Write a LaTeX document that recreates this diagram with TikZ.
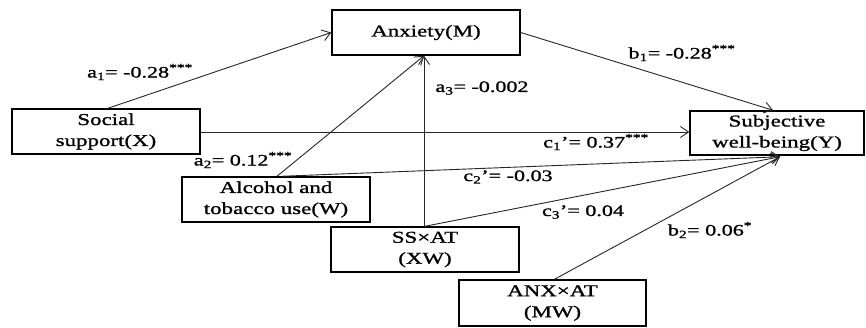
\documentclass[tikz,border=0pt]{standalone}
\usepackage{fontspec}
\setmainfont{Liberation Serif}[FakeStretch=1.38, FakeBold=1.2]
\usetikzlibrary{arrows.meta}
\begin{document}
\begin{tikzpicture}[x=1pt,y=-1pt,
  box/.style={draw, line width=1.5pt, minimum width=188pt, minimum height=45pt, inner sep=0pt, align=center,
    font=\fontsize{16.6}{21}\selectfont},
  conn/.style={line width=0.9pt, draw=black!85, -{Straight Barb[length=8pt,width=11pt,line width=0.9pt]}},
  lab/.style={font=\fontsize{16}{19}\selectfont, inner sep=0pt}]
\path[use as bounding box] (0,0) rectangle (866,327);
\node[box] (anx) at (426,32.5) {Anxiety(M)};
\node[box] (soc) at (106,131.5) {Social\\support(X)};
\node[box, minimum width=174pt, minimum height=44pt] (swb) at (777,133) {Subjective\\well-being(Y)};
\node[box] (alc) at (276,199.5) {Alcohol and\\tobacco use(W)};
\node[box] (ss) at (425,249.5) {SS×AT\\(XW)};
\node[box, minimum width=187pt, minimum height=46pt] (anxat) at (552.5,303) {ANX×AT\\(MW)};
\coordinate (anxbot) at ([xshift=-2pt]anx.south);
\coordinate (swbbot) at ([xshift=3pt,yshift=-1pt]swb.south);
\draw[conn] ([xshift=2pt]soc.north) -- (anx.west);
\draw[conn] (anx.east) -- ([xshift=-4pt]swb.north);
\draw[conn] ([yshift=-0.5pt]soc.east) -- ([yshift=-0.5pt]soc.east -| swb.west);
\draw[conn] ([xshift=1pt]alc.north) -- (anxbot);
\draw[conn] (ss.north -| anxbot) -- (anxbot);
\draw[conn] ([xshift=6pt]alc.north) -- (swbbot);
\draw[conn] (ss.north) -- (swbbot);
\draw[conn] ([xshift=2pt]anxat.north) -- (swbbot);
\node[lab] (la1) at (140,72) {a\textsubscript{1}= -0.28\textsuperscript{***}};
\node[lab] (la2) at (243,160) {a\textsubscript{2}= 0.12\textsuperscript{***}};
\node[lab] (la3) at (482,88) {a\textsubscript{3}= -0.002};
\node[lab] (lb1) at (682,53) {b\textsubscript{1}= -0.28\textsuperscript{***}};
\node[lab] (lc1) at (596,142) {c\textsubscript{1}’= 0.37\textsuperscript{***}};
\node[lab] (lc2) at (508,177) {c\textsubscript{2}’= -0.03};
\node[lab] (lc3) at (583,212) {c\textsubscript{3}’= 0.04};
\node[lab] (lb2) at (710,230) {b\textsubscript{2}= 0.06\textsuperscript{*}};
\end{tikzpicture}
\end{document}
